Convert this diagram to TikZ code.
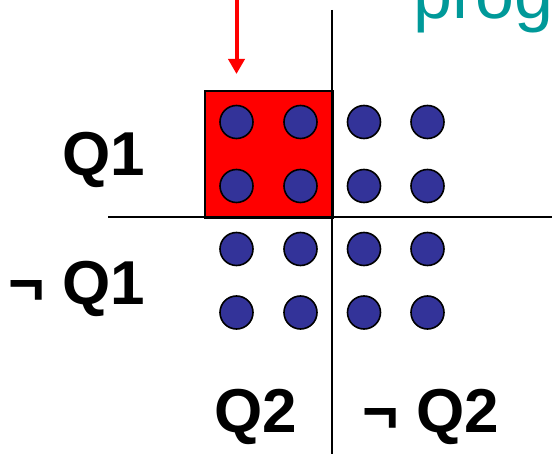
\documentclass[tikz,border=0pt]{standalone}
\usepackage{fontspec}
\setmainfont{Liberation Sans}
\usetikzlibrary{arrows.meta}
\definecolor{dotblue}{RGB}{51,51,153}
\definecolor{teal99}{RGB}{0,153,153}
\tikzset{
  dot/.style={circle,draw=black,line width=1.6pt,fill=dotblue,minimum size=33pt,inner sep=0pt},
  axis/.style={draw=black,line width=2pt},
  lbl/.style={font=\bfseries\fontsize{62}{62}\selectfont,inner sep=0pt},
  pointer/.style={draw=red,line width=4pt,-{Triangle[length=15pt,width=16pt]}}
}
\begin{document}
\begin{tikzpicture}[x=1pt,y=-1pt]
\useasboundingbox (0,0) rectangle (552,454);
\clip (0,0) rectangle (552,454);
% teal title fragment
\node[anchor=base west,inner sep=0pt,text=teal99,font=\fontsize{70}{70}\selectfont] (title) at (413,19) {prog};
% selected cell
\node[draw=black,line width=2pt,fill=red,minimum width=128pt,minimum height=127pt,inner sep=0pt,anchor=north west] (cell) at (204,90) {};
% axes
\coordinate (vtop) at (332,10);
\coordinate (vbot) at (332,454);
\coordinate (hleft) at (108,217);
\coordinate (hright) at (552,217);
\path[axis] (vtop) -- (vbot);
\path[axis] (hleft) -- (hright);
% arrow
\coordinate (astart) at (236.5,0);
\coordinate (aend) at (236.5,74);
\path[pointer] (astart) -- (aend);
% dots
\foreach \i/\x in {1/236.5,2/300.5,3/364,4/427.5}{
  \foreach \j/\y in {1/122,2/186,3/249,4/312.5}{
    \node[dot] (d\i\j) at (\x,\y) {};
  }
}
% labels
\node[lbl,anchor=base east] (q1) at (145,176) {Q1};
\node[lbl,anchor=base east] (nq1) at (145,305) {¬ Q1};
\node[lbl,anchor=base] (q2) at (256,433) {Q2};
\node[lbl,anchor=base] (nq2) at (431,433) {¬ Q2};
\end{tikzpicture}
\end{document}
